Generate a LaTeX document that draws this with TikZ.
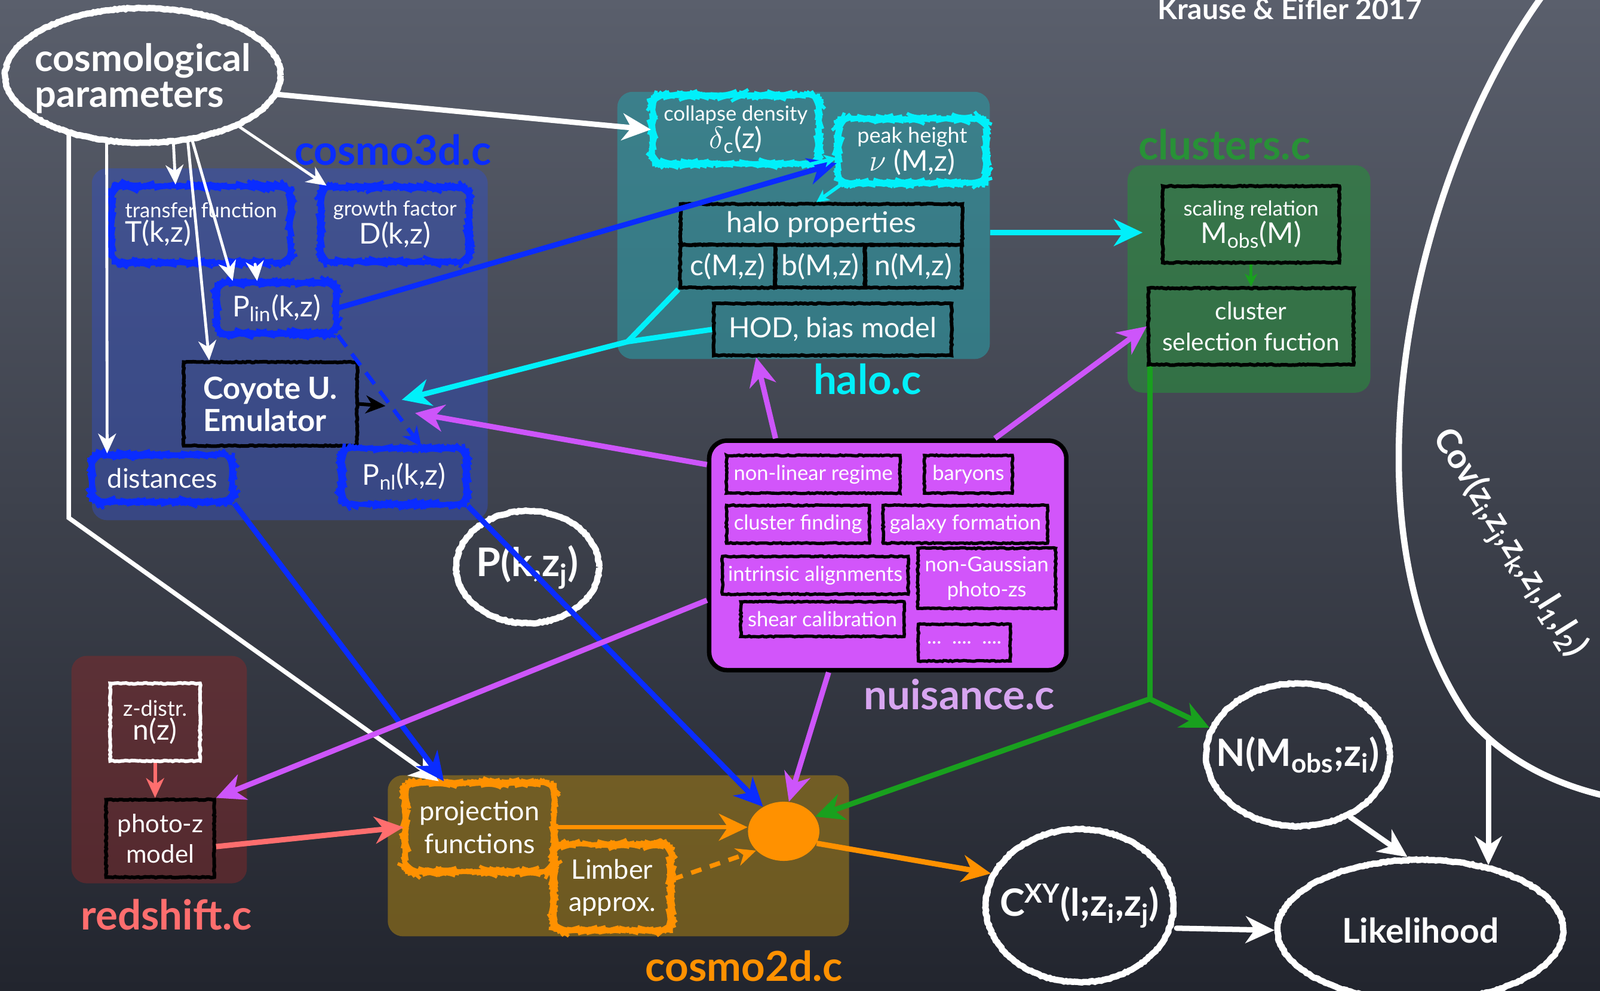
\documentclass[tikz,border=0pt]{standalone}
\usepackage{fontspec}
\setmainfont{Lato}
\usetikzlibrary{arrows.meta,decorations.pathmorphing,shapes.geometric}

\definecolor{board}{RGB}{90,95,108}
\definecolor{boarddark}{RGB}{34,37,46}
\definecolor{cblue}{RGB}{10,44,255}
\definecolor{ccyan}{RGB}{0,240,250}
\definecolor{cviolet}{RGB}{205,85,250}
\definecolor{cgreen}{RGB}{25,160,30}
\definecolor{csalmon}{RGB}{255,110,110}
\definecolor{corange}{RGB}{255,145,0}
\definecolor{lblgreen}{RGB}{40,145,55}
\definecolor{lblviolet}{RGB}{215,165,240}
\definecolor{nuisfill}{RGB}{210,85,250}
\definecolor{fillthree}{RGB}{50,80,200}
\definecolor{fillhalo}{RGB}{40,160,170}
\definecolor{fillclus}{RGB}{40,140,60}
\definecolor{fillred}{RGB}{140,40,40}
\definecolor{filltwo}{RGB}{170,130,20}

\newcommand\fsz[2]{\fontsize{#1}{#2}\selectfont}

\tikzset{
  chalk/.style={decorate,decoration={random steps,segment length=1.2pt,amplitude=0.3pt}},
  region/.style={rounded corners=3mm,inner sep=0pt},
  lbl/.style={font=\fsz{23}{27}\bfseries},
  cbox/.style={draw=#1,line width=1.8pt,rounded corners=2.2mm,chalk,text=white,align=center,inner sep=1pt},
  kbox/.style={draw=black,line width=2pt,chalk,text=white,align=center,inner sep=1pt},
  nitem/.style={kbox,line width=1.8pt,font=\fsz{11.5}{14},minimum height=7.4mm},
  bubble/.style={ellipse,draw=white,line width=3.5pt,chalk,inner sep=0pt},
  bubtxt/.style={text=white,font=\fsz{21}{24}\bfseries},
  wline/.style={draw=white,line width=3pt,line cap=round},
  bigtip/.style={-{Stealth[length=16pt,width=15pt,inset=5pt]}},
  midtip/.style={-{Stealth[length=11pt,width=10pt,inset=3.5pt]}},
  smalltip/.style={-{Stealth[length=7pt,width=7pt,inset=2pt]}}
}

\begin{document}
\begin{tikzpicture}[x=0.2mm,y=-0.2mm]
\useasboundingbox (0,0) rectangle (1568,971);
\shade[top color=board,bottom color=boarddark] (0,0) rectangle (1568,971);

% regions of the code
\node[region,fill=fillthree,fill opacity=0.45,minimum width=77.6mm,minimum height=69mm] (r3d) at (284,337.5) {};
\node[region,fill=fillhalo,fill opacity=0.55,minimum width=73mm,minimum height=52.4mm] (rhalo) at (787.5,221) {};
\node[region,fill=fillclus,fill opacity=0.6,minimum width=47.6mm,minimum height=44.6mm] (rclus) at (1224,273.5) {};
\node[region,fill=fillred,fill opacity=0.45,minimum width=34.4mm,minimum height=44.6mm] (rred) at (156,754.5) {};
\node[region,fill=filltwo,fill opacity=0.55,minimum width=90.4mm,minimum height=31.6mm] (r2d) at (606,839) {};

\node[lbl,text=cblue] (l3d) at (385,147) {cosmo3d.c};
\node[lbl,text=ccyan] (lhalo) at (850,372) {halo.c};
\node[lbl,text=lblgreen] (lclus) at (1200,142) {clusters.c};
\node[lbl,text=lblviolet] (lnuis) at (940,681) {nuisance.c};
\node[lbl,text=csalmon] (lred) at (163,897) {redshift.c};
\node[lbl,text=corange] (l2d) at (729,947) {cosmo2d.c};

\node[font=\fsz{16}{19}\bfseries,text=white,anchor=base] (ref) at (1264,19) {Krause \& Eifler 2017};

% cosmological parameters
\node[bubble,minimum width=54mm,minimum height=26.4mm] (cosmo) at (140,74) {};
\node[bubtxt,align=left,font=\fsz{21}{20}\bfseries] (cosmotxt) at ([yshift=-0.6mm]cosmo.center) {cosmological\\parameters};

% cosmo3d.c
\node[cbox=cblue,minimum width=35mm,minimum height=15mm,align=left] (tf) at (197,220) {\fsz{11.5}{14}transfer function\\\fsz{16}{19}T(k,z)};
\node[cbox=cblue,minimum width=29mm,minimum height=14.6mm] (gf) at (387,220) {\fsz{11.5}{14}growth factor\\\fsz{16}{19}D(k,z)};
\node[cbox=cblue,minimum width=23.4mm,minimum height=10mm,font=\fsz{16}{19}] (plin) at (271,302) {P\textsubscript{lin}(k,z)};
\node[kbox,minimum width=34mm,minimum height=16.4mm,align=left,font=\fsz{17}{18}\bfseries] (coyote) at (265,396) {Coyote U.\\Emulator};
\node[cbox=cblue,minimum width=27.6mm,minimum height=9.2mm,font=\fsz{15}{18}] (dist) at (159,469) {distances};
\node[cbox=cblue,minimum width=24.4mm,minimum height=11mm,font=\fsz{16}{19}] (pnl) at (396,467) {P\textsubscript{nl}(k,z)};

\node[bubble,minimum width=28mm,minimum height=22mm] (pk) at (517,556) {};
\node[bubtxt,font=\fsz{22}{24}\bfseries] (pktxt) at (pk) {P(k,z\textsubscript{j})};

% halo.c
\node[cbox=ccyan,minimum width=32.6mm,minimum height=13.4mm] (coll) at (721,127) {\fsz{11.5}{14}collapse density\\\fsz{16}{19}$\delta$\textsubscript{c}(z)};
\node[cbox=ccyan,minimum width=29mm,minimum height=12.6mm] (peak) at (894,148) {\fsz{12}{14}peak height\\\fsz{16}{19}$\nu$ (M,z)};
\node[kbox,minimum width=55.2mm,minimum height=8mm,font=\fsz{16}{19}] (hp) at (805,220) {halo properties};
\node[kbox,minimum width=18.6mm,minimum height=8.4mm,font=\fsz{16}{19}] (cM) at (713,261) {c(M,z)};
\node[kbox,minimum width=17.6mm,minimum height=8.4mm,font=\fsz{16}{19}] (bM) at (804,261) {b(M,z)};
\node[kbox,minimum width=19mm,minimum height=8.4mm,font=\fsz{16}{19}] (nM) at (895,261) {n(M,z)};
\node[kbox,minimum width=46.6mm,minimum height=10.2mm,font=\fsz{15.5}{18}] (hod) at (816,323) {HOD, bias model};

% clusters.c
\node[kbox,minimum width=34.6mm,minimum height=15mm] (scal) at (1226,220) {\fsz{11.5}{14}scaling relation\\\fsz{16}{19}M\textsubscript{obs}(M)};
\node[kbox,minimum width=40.2mm,minimum height=15mm,font=\fsz{13.5}{17}] (sel) at (1226,320) {cluster\\selection fuction};

% nuisance.c
\node[draw=black,line width=2.5pt,fill=nuisfill,rounded corners=3.5mm,minimum width=70mm,minimum height=45mm] (nuis) at (870,544.5) {};
\node[nitem,minimum width=34mm] (nl) at (797,465) {non-linear regime};
\node[nitem,minimum width=17.2mm] (bar) at (949,465) {baryons};
\node[nitem,minimum width=28mm] (cf) at (782,514) {cluster finding};
\node[nitem,minimum width=32.2mm] (gal) at (946,514) {galaxy formation};
\node[nitem,minimum width=36.4mm] (ia) at (799,564) {intrinsic alignments};
\node[nitem,minimum width=27mm,minimum height=11.8mm] (ng) at (967,567) {non-Gaussian\\photo-zs};
\node[nitem,minimum width=32mm,minimum height=6.8mm] (sc) at (806,607) {shear calibration};
\node[nitem,minimum width=18mm,minimum height=7.2mm] (dots) at (945,630) {...\ \ ....\ \ ....};

% redshift.c
\node[kbox,draw=white,minimum width=17.6mm,minimum height=15.2mm] (zd) at (152,708) {\fsz{12}{14}z-distr.\\\fsz{16}{19}n(z)};
\node[kbox,minimum width=21.2mm,minimum height=15.2mm,font=\fsz{14}{17}] (pz) at (157,822) {photo-z\\model};

% cosmo2d.c
\node[cbox=corange,minimum width=29.2mm,minimum height=17.4mm,font=\fsz{15}{18}] (proj) at (470,811) {projection\\functions};
\node[cbox=corange,minimum width=23mm,minimum height=16.8mm,font=\fsz{15}{18}] (limb) at (600,870) {Limber\\approx.};
\node[ellipse,fill=corange,minimum width=14mm,minimum height=11.6mm] (blob) at (768,815) {};

% observables and likelihood
\node[bubble,minimum width=36.8mm,minimum height=30mm] (cxy) at (1058,888) {};
\node[bubtxt] (cxytxt) at (cxy) {C\textsuperscript{XY}(l;z\textsubscript{i},z\textsubscript{j})};
\node[bubble,minimum width=36mm,minimum height=28mm] (nm) at (1272,740) {};
\node[bubtxt] (nmtxt) at (nm) {N(M\textsubscript{obs};z\textsubscript{i})};
\node[bubble,minimum width=56mm,minimum height=27.6mm] (like) at (1392,912) {};
\node[bubtxt,font=\fsz{19}{22}\bfseries] (liketxt) at (like) {Likelihood};

\draw[white,line width=3.5pt,line cap=round] (1510,-2) .. controls (1380,180) and (1310,520) .. (1440,705)
  .. controls (1480,750) and (1530,770) .. (1572,780) coordinate[pos=0.15] (covfoot);
\node[rotate=-58,text=white,font=\fsz{19}{22}\bfseries] (cov) at (1478,533) {Cov(z\textsubscript{i},z\textsubscript{j},z\textsubscript{k},z\textsubscript{l},l\textsubscript{1},l\textsubscript{2})};

% white arrows
\draw[wline,bigtip] (cosmo.-8) -- (coll.west);
\draw[wline,line width=1.6pt,midtip] (cosmo.-66) -- ([xshift=-5mm]tf.north);
\draw[wline,line width=1.6pt,midtip] (cosmo.-53) -- ([xshift=-8.6mm]plin.north);
\draw[wline,line width=1.6pt,midtip] (cosmo.-56) -- ([xshift=-12mm]coyote.north);
\draw[wline,line width=1.6pt,midtip] (cosmo.-28) -- ([xshift=1.4mm]gf.north west);
\draw[wline,line width=1.6pt,midtip] (cosmo.-118) -- ([xshift=-10.8mm]dist.north);
\draw[wline,line width=2.5pt,bigtip] (cosmo.-141) -- ++(0,375) coordinate (bend) -- ([xshift=-8mm]proj.north);
\draw[wline,line width=1.6pt,midtip] ([xshift=10.6mm]tf.south) -- ([xshift=-3.8mm]plin.north);

% blue arrows
\draw[cblue,line width=3pt,bigtip] (plin.east) -- ([yshift=-2.4mm]peak.west);
\draw[cblue,line width=2.2pt,dash pattern=on 8pt off 5pt,midtip] (plin.south east) -- ([xshift=3.4mm]pnl.north);
\draw[cblue,line width=3pt,bigtip] (dist.south east) -- ([xshift=-7mm]proj.north);
\draw[cblue,line width=3pt,bigtip] (pnl.south east) -- (blob.130);
\draw[black,line width=2pt,midtip] (coyote.east) -- ++(26,2) coordinate (cyhead);

% cyan arrows
\draw[ccyan,line width=2pt,smalltip] ([xshift=-3mm]coll.south east) -- ([yshift=-1.4mm]peak.west);
\draw[ccyan,line width=2pt,smalltip] ([xshift=-14mm]peak.south) -- ([xshift=-1mm]hp.north);
\draw[ccyan,line width=3pt,bigtip] ([yshift=-1.4mm]rhalo.east) -- ([xshift=-3.6mm,yshift=-1.6mm]scal.west);
\coordinate (cyj) at (615,335);
\draw[ccyan,line width=3pt] (cM.south west) -- (cyj);
\draw[ccyan,line width=3pt,bigtip] (hod.west) -- (cyj) -- ([xshift=8.4mm,yshift=0.8mm]coyote.east);

% violet arrows
\draw[cviolet,line width=3pt,bigtip] ([yshift=17.8mm]nuis.west) -- ([xshift=11mm,yshift=-1.8mm]coyote.east);
\draw[cviolet,line width=3pt,bigtip] ([xshift=-22mm]nuis.north) -- ([xshift=-15mm]hod.south);
\draw[cviolet,line width=3pt,bigtip] ([xshift=21mm]nuis.north) -- (sel.west);
\draw[cviolet,line width=3pt,bigtip] ([yshift=-8.8mm]nuis.west) -- (pz.north east);
\draw[cviolet,line width=3pt,bigtip] ([xshift=-11.6mm]nuis.south) -- (blob.80);

% green arrows
\draw[cgreen,line width=1.5pt,smalltip] (scal.south) -- (sel.north);
\draw[cgreen,line width=3pt] ([xshift=0.6mm]sel.south west) -- ++(0,326) coordinate (gj);
\draw[cgreen,line width=3pt,bigtip] (gj) -- (nm.163);
\draw[cgreen,line width=3pt,bigtip] (gj) -- (blob.25);

% salmon arrows
\draw[csalmon,line width=2pt,midtip] (zd.south) -- (zd.south |- pz.north);
\draw[csalmon,line width=3pt,bigtip] ([yshift=-1.6mm]pz.east) -- (proj.west);

% orange arrows
\draw[corange,line width=2.5pt,bigtip] (proj.east) -- (proj.east -| blob.west);
\draw[corange,line width=2.5pt,dash pattern=on 6pt off 5pt,midtip] ([yshift=1.6mm]limb.east) -- (blob.215);
\draw[corange,line width=3pt,bigtip] (blob.-20) -- (cxy.160);

% to the likelihood
\draw[wline,bigtip] ([yshift=-4.4mm]cxy.east) -- (like.west);
\draw[wline,bigtip] (nm.-50) -- (like.100);
\draw[wline,bigtip] (covfoot) -- (covfoot |- like.44);
\end{tikzpicture}
\end{document}
